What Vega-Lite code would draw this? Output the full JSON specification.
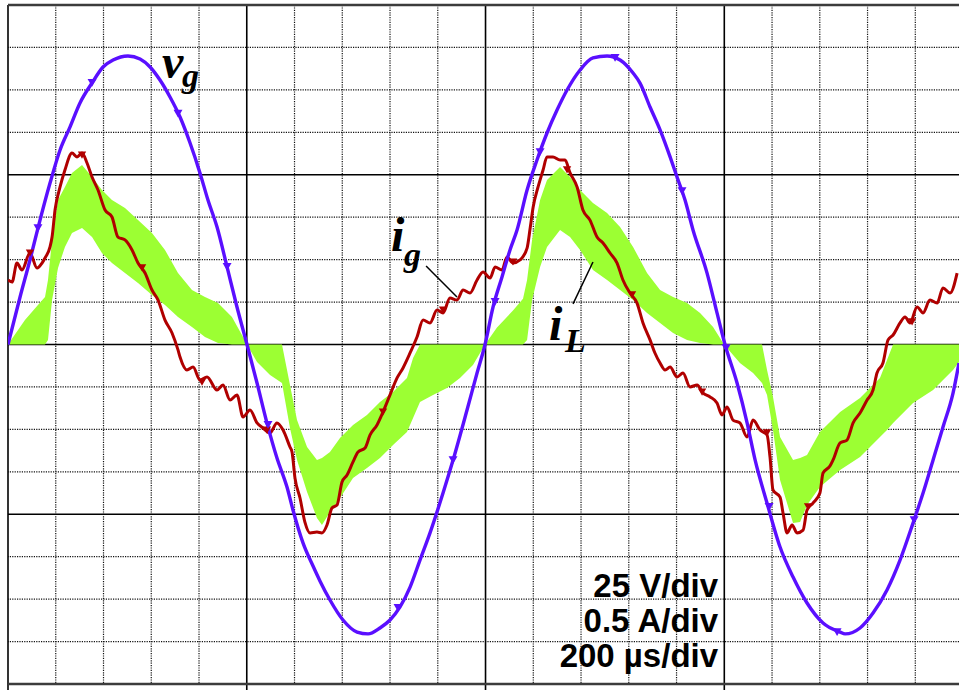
{
  "$schema": "https://vega.github.io/schema/vega-lite/v6.json",
  "width": 951,
  "height": 679,
  "autosize": {"type": "none"},
  "padding": {"left": 8, "top": 5, "right": 0, "bottom": 6},
  "background": "white",
  "view": {"stroke": null},
  "datasets": {
    "iL": [
      {"t":0,"hi":0,"lo":0},{"t":14.2,"hi":0.144,"lo":0},{"t":25.1,"hi":0.233,"lo":0},{"t":31.0,"hi":0.28,"lo":0},
      {"t":33.5,"hi":0.38,"lo":0.027},{"t":36.9,"hi":0.616,"lo":0.262},{"t":41.9,"hi":0.851,"lo":0.451},{"t":47.7,"hi":0.928,"lo":0.575},
      {"t":53.6,"hi":1.011,"lo":0.657},{"t":62.0,"hi":1.057,"lo":0.686},{"t":70.4,"hi":0.987,"lo":0.633},{"t":78.7,"hi":0.91,"lo":0.539},
      {"t":87.1,"hi":0.851,"lo":0.48},{"t":98.0,"hi":0.804,"lo":0.421},{"t":108.9,"hi":0.733,"lo":0.362},{"t":120.6,"hi":0.657,"lo":0.292},
      {"t":131.5,"hi":0.557,"lo":0.233},{"t":142.4,"hi":0.421,"lo":0.162},{"t":154.1,"hi":0.321,"lo":0.103},{"t":165.0,"hi":0.28,"lo":0.044},
      {"t":175.9,"hi":0.244,"lo":0.009},{"t":187.6,"hi":0.162,"lo":0},{"t":196.9,"hi":0.044,"lo":0},{"t":200.2,"hi":0,"lo":0},
      {"t":208.6,"hi":0,"lo":-0.103},{"t":219.5,"hi":0,"lo":-0.18},{"t":229.5,"hi":0,"lo":-0.227},{"t":236.2,"hi":-0.239,"lo":-0.492},
      {"t":242.1,"hi":-0.445,"lo":-0.68},{"t":250.5,"hi":-0.604,"lo":-0.869},{"t":258.8,"hi":-0.68,"lo":-1.022},{"t":263.0,"hi":-0.669,"lo":-1.063},
      {"t":269.7,"hi":-0.633,"lo":-0.987},{"t":278.1,"hi":-0.551,"lo":-0.904},{"t":289.0,"hi":-0.474,"lo":-0.787},{"t":300.7,"hi":-0.415,"lo":-0.728},
      {"t":311.6,"hi":-0.339,"lo":-0.669},{"t":322.5,"hi":-0.28,"lo":-0.592},{"t":334.2,"hi":-0.197,"lo":-0.515},{"t":339.3,"hi":-0.08,"lo":-0.433},
      {"t":345.1,"hi":0,"lo":-0.339},{"t":356.0,"hi":0,"lo":-0.297},{"t":367.7,"hi":0,"lo":-0.256},{"t":378.6,"hi":0,"lo":-0.197},
      {"t":389.5,"hi":0,"lo":-0.121},{"t":399.6,"hi":0,"lo":0},{"t":409.6,"hi":0.1,"lo":0},{"t":423.0,"hi":0.2,"lo":0},
      {"t":431.4,"hi":0.27,"lo":0},{"t":434.8,"hi":0.38,"lo":0.027},{"t":439.0,"hi":0.616,"lo":0.262},{"t":445.7,"hi":0.851,"lo":0.457},
      {"t":451.5,"hi":0.969,"lo":0.575},{"t":462.4,"hi":1.046,"lo":0.675},{"t":470.8,"hi":0.987,"lo":0.633},{"t":479.2,"hi":0.91,"lo":0.557},
      {"t":490.0,"hi":0.834,"lo":0.439},{"t":501.8,"hi":0.775,"lo":0.38},{"t":512.7,"hi":0.692,"lo":0.321},{"t":523.6,"hi":0.575,"lo":0.262},
      {"t":535.3,"hi":0.421,"lo":0.186},{"t":546.2,"hi":0.321,"lo":0.127},{"t":557.1,"hi":0.28,"lo":0.068},{"t":568.8,"hi":0.244,"lo":0.027},
      {"t":579.7,"hi":0.186,"lo":0.009},{"t":590.6,"hi":0.103,"lo":0},{"t":599.8,"hi":0,"lo":0},{"t":613.1,"hi":0,"lo":-0.109},
      {"t":624.1,"hi":0,"lo":-0.168},{"t":631.6,"hi":0,"lo":-0.227},{"t":635.8,"hi":-0.15,"lo":-0.297},{"t":640.8,"hi":-0.309,"lo":-0.504},
      {"t":646.7,"hi":-0.545,"lo":-0.798},{"t":657.6,"hi":-0.68,"lo":-1.052},{"t":663.5,"hi":-0.669,"lo":-1.046},{"t":669.3,"hi":-0.651,"lo":-0.946},
      {"t":680.1,"hi":-0.515,"lo":-0.84},{"t":697.0,"hi":-0.398,"lo":-0.739},{"t":713.7,"hi":-0.315,"lo":-0.663},{"t":730.4,"hi":-0.197,"lo":-0.545},
      {"t":736.3,"hi":-0.091,"lo":-0.504},{"t":741.4,"hi":0,"lo":-0.463},{"t":758.1,"hi":0,"lo":-0.345},{"t":774.9,"hi":0,"lo":-0.268},
      {"t":791.6,"hi":0,"lo":-0.15},{"t":796.6,"hi":0,"lo":-0.103}
    ],
    "ig": [
      {"t":0,"v":0.38},{"t":3.4,"v":0.368},{"t":7.5,"v":0.48},{"t":11.7,"v":0.439},{"t":18.4,"v":0.539},{"t":24.3,"v":0.451},
      {"t":28.5,"v":0.48},{"t":31.0,"v":0.51},{"t":35.2,"v":0.575},{"t":36.9,"v":0.633},{"t":39.4,"v":0.792},{"t":43.6,"v":0.928},
      {"t":47.7,"v":1.028},{"t":53.6,"v":1.128},{"t":57.8,"v":1.105},{"t":62.0,"v":1.128},{"t":66.2,"v":1.069},{"t":70.4,"v":0.987},
      {"t":75.4,"v":0.91},{"t":81.3,"v":0.792},{"t":87.1,"v":0.751},{"t":92.1,"v":0.633},{"t":98.0,"v":0.616},{"t":103.9,"v":0.557},
      {"t":108.9,"v":0.48},{"t":114.8,"v":0.421},{"t":120.6,"v":0.321},{"t":125.7,"v":0.262},{"t":131.5,"v":0.144},{"t":137.4,"v":0.068},
      {"t":142.4,"v":-0.032},{"t":144.1,"v":-0.074},{"t":149.9,"v":-0.15},{"t":155.0,"v":-0.133},{"t":160.8,"v":-0.209},{"t":166.7,"v":-0.191},
      {"t":175.1,"v":-0.268},{"t":180.1,"v":-0.239},{"t":186.0,"v":-0.327},{"t":191.8,"v":-0.297},{"t":196.9,"v":-0.427},{"t":202.7,"v":-0.386},
      {"t":208.6,"v":-0.462},{"t":213.6,"v":-0.492},{"t":219.5,"v":-0.521},{"t":225.3,"v":-0.462},{"t":230.4,"v":-0.504},{"t":236.2,"v":-0.604},
      {"t":237.9,"v":-0.633},{"t":240.4,"v":-0.787},{"t":244.6,"v":-0.904},{"t":248.7,"v":-1.046},{"t":253.0,"v":-1.11},{"t":258.8,"v":-1.105},
      {"t":263.0,"v":-1.11},{"t":267.2,"v":-1.063},{"t":271.4,"v":-0.963},{"t":275.6,"v":-0.946},{"t":279.8,"v":-0.81},{"t":284.0,"v":-0.769},
      {"t":289.0,"v":-0.692},{"t":293.2,"v":-0.633},{"t":299.1,"v":-0.61},{"t":303.3,"v":-0.533},{"t":309.1,"v":-0.474},{"t":314.1,"v":-0.398},
      {"t":320.0,"v":-0.297},{"t":325.9,"v":-0.197},{"t":330.9,"v":-0.138},{"t":336.8,"v":-0.05},{"t":342.6,"v":0.044},{"t":347.7,"v":0.144},
      {"t":353.5,"v":0.127},{"t":359.4,"v":0.203},{"t":364.4,"v":0.186},{"t":370.2,"v":0.274},{"t":376.1,"v":0.262},{"t":381.2,"v":0.321},
      {"t":387.0,"v":0.303},{"t":392.9,"v":0.38},{"t":397.9,"v":0.427},{"t":403.8,"v":0.392},{"t":408.0,"v":0.457},{"t":413.8,"v":0.439},
      {"t":418.0,"v":0.516},{"t":423.0,"v":0.48},{"t":428.9,"v":0.498},{"t":434.8,"v":0.568},{"t":437.4,"v":0.686},{"t":439.9,"v":0.81},
      {"t":444.0,"v":0.928},{"t":448.2,"v":1.028},{"t":451.5,"v":1.105},{"t":456.5,"v":1.105},{"t":462.4,"v":1.087},{"t":466.6,"v":1.087},
      {"t":470.8,"v":1.011},{"t":476.7,"v":0.928},{"t":481.6,"v":0.792},{"t":487.5,"v":0.733},{"t":493.4,"v":0.633},{"t":498.4,"v":0.598},
      {"t":504.3,"v":0.539},{"t":510.2,"v":0.48},{"t":515.1,"v":0.38},{"t":521.0,"v":0.303},{"t":526.9,"v":0.244},{"t":531.9,"v":0.127},
      {"t":537.8,"v":0.027},{"t":541.9,"v":-0.05},{"t":546.2,"v":-0.109},{"t":550.4,"v":-0.15},{"t":554.6,"v":-0.133},{"t":560.4,"v":-0.191},
      {"t":565.4,"v":-0.168},{"t":571.3,"v":-0.25},{"t":577.2,"v":-0.239},{"t":582.2,"v":-0.286},{"t":588.1,"v":-0.309},{"t":593.9,"v":-0.345},
      {"t":598.1,"v":-0.415},{"t":602.3,"v":-0.368},{"t":607.3,"v":-0.445},{"t":613.1,"v":-0.462},{"t":619.1,"v":-0.545},{"t":624.1,"v":-0.445},
      {"t":630.0,"v":-0.504},{"t":635.8,"v":-0.533},{"t":638.3,"v":-0.663},{"t":640.8,"v":-0.857},{"t":646.7,"v":-0.899},{"t":649.2,"v":-0.993},
      {"t":652.6,"v":-1.11},{"t":656.8,"v":-1.063},{"t":660.9,"v":-1.11},{"t":666.0,"v":-1.093},{"t":669.3,"v":-0.975},{"t":674.3,"v":-0.934},
      {"t":680.1,"v":-0.875},{"t":682.7,"v":-0.757},{"t":688.5,"v":-0.716},{"t":691.1,"v":-0.68},{"t":697.0,"v":-0.58},{"t":702.8,"v":-0.563},
      {"t":707.9,"v":-0.462},{"t":713.7,"v":-0.404},{"t":719.6,"v":-0.327},{"t":724.6,"v":-0.268},{"t":727.9,"v":-0.168},{"t":732.9,"v":-0.109},
      {"t":737.2,"v":0.027},{"t":741.4,"v":0.056},{"t":747.2,"v":0.127},{"t":751.4,"v":0.162},{"t":755.6,"v":0.127},{"t":761.5,"v":0.221},
      {"t":766.5,"v":0.186},{"t":772.3,"v":0.262},{"t":778.2,"v":0.244},{"t":783.2,"v":0.333},{"t":789.1,"v":0.303},{"t":795.0,"v":0.421}
    ],
    "vg": [
      {"t":0,"v":0},{"t":10.1,"v":0.28},{"t":18.4,"v":0.498},{"t":25.1,"v":0.686},{"t":35.2,"v":0.951},{"t":43.6,"v":1.146},
      {"t":51.9,"v":1.281},{"t":60.3,"v":1.423},{"t":70.4,"v":1.541},{"t":79.6,"v":1.635},{"t":88.0,"v":1.676},{"t":100.5,"v":1.7},
      {"t":110.6,"v":1.682},{"t":119.0,"v":1.635},{"t":127.3,"v":1.558},{"t":135.7,"v":1.458},{"t":144.1,"v":1.34},{"t":152.5,"v":1.187},
      {"t":160.8,"v":1.011},{"t":167.5,"v":0.851},{"t":175.1,"v":0.692},{"t":183.5,"v":0.457},{"t":191.8,"v":0.221},{"t":200.2,"v":0},
      {"t":208.6,"v":-0.227},{"t":216.9,"v":-0.462},{"t":225.3,"v":-0.669},{"t":233.7,"v":-0.84},{"t":238.7,"v":-0.975},{"t":247.1,"v":-1.169},
      {"t":255.5,"v":-1.305},{"t":261.4,"v":-1.394},{"t":269.7,"v":-1.505},{"t":280.6,"v":-1.623},{"t":292.4,"v":-1.694},{"t":301.6,"v":-1.705},
      {"t":311.6,"v":-1.67},{"t":320.0,"v":-1.623},{"t":328.4,"v":-1.546},{"t":336.8,"v":-1.429},{"t":345.1,"v":-1.27},{"t":353.5,"v":-1.11},
      {"t":364.4,"v":-0.875},{"t":372.8,"v":-0.681},{"t":384.5,"v":-0.386},{"t":392.9,"v":-0.168},{"t":399.6,"v":0},{"t":406.3,"v":0.221},
      {"t":413.8,"v":0.398},{"t":420.5,"v":0.557},{"t":426.4,"v":0.675},{"t":434.8,"v":0.91},{"t":443.1,"v":1.087},{"t":451.5,"v":1.246},
      {"t":459.9,"v":1.381},{"t":468.3,"v":1.499},{"t":479.2,"v":1.617},{"t":490.0,"v":1.688},{"t":501.8,"v":1.7},{"t":512.7,"v":1.676},
      {"t":523.6,"v":1.599},{"t":529.4,"v":1.54},{"t":537.8,"v":1.399},{"t":546.2,"v":1.264},{"t":554.6,"v":1.105},{"t":560.4,"v":0.987},
      {"t":567.1,"v":0.851},{"t":573.8,"v":0.675},{"t":585.5,"v":0.422},{"t":593.9,"v":0.186},{"t":600.6,"v":0},{"t":610.7,"v":-0.227},
      {"t":619.1,"v":-0.462},{"t":625.8,"v":-0.68},{"t":635.8,"v":-0.934},{"t":646.7,"v":-1.193},{"t":657.6,"v":-1.37},{"t":669.3,"v":-1.523},
      {"t":682.7,"v":-1.641},{"t":697.0,"v":-1.694},{"t":701.2,"v":-1.705},{"t":713.7,"v":-1.67},{"t":724.6,"v":-1.582},{"t":736.3,"v":-1.446},
      {"t":747.2,"v":-1.27},{"t":758.1,"v":-1.052},{"t":766.5,"v":-0.875},{"t":774.9,"v":-0.68},{"t":783.2,"v":-0.486},{"t":791.6,"v":-0.286},
      {"t":796.6,"v":-0.109}
    ],
    "vgMarks": [
      {"t":25.1,"v":0.686},{"t":70.4,"v":1.541},{"t":142.4,"v":1.36},{"t":183.5,"v":0.457},{"t":217.8,"v":-0.474},{"t":326.7,"v":-1.552},
      {"t":372.8,"v":-0.681},{"t":408.0,"v":0.251},{"t":445.7,"v":1.134},{"t":508.5,"v":1.688},{"t":564.6,"v":0.904},{"t":601.5,"v":-0.021},
      {"t":637.5,"v":-0.957},{"t":694.5,"v":-1.694},{"t":759.0,"v":-1.034}
    ],
    "igMarks": [
      {"t":18.4,"v":0.539},{"t":62.0,"v":1.116},{"t":112.3,"v":0.451},{"t":162.5,"v":-0.221},{"t":216.9,"v":-0.504},{"t":314.1,"v":-0.398},
      {"t":364.4,"v":0.203},{"t":423.0,"v":0.486},{"t":468.3,"v":1.028},{"t":522.7,"v":0.292},{"t":581.4,"v":-0.28},{"t":635.8,"v":-0.521},
      {"t":670.2,"v":-0.957},{"t":757.3,"v":0.133}
    ],
    "minorT": [{"t":40},{"t":80},{"t":120},{"t":160},{"t":240},{"t":280},{"t":320},{"t":360},{"t":440},{"t":480},{"t":520},{"t":560},{"t":640},{"t":680},{"t":720},{"t":760}],
    "minorV": [{"v":-1.75},{"v":-1.5},{"v":-1.25},{"v":-0.75},{"v":-0.5},{"v":-0.25},{"v":0.25},{"v":0.5},{"v":0.75},{"v":1.25},{"v":1.5},{"v":1.75}],
    "majorT": [{"t":0},{"t":200},{"t":400},{"t":600}],
    "majorV": [{"v":-1},{"v":0},{"v":1}],
    "borderV": [{"v":2},{"v":-2}],
    "leaders": [
      {"t":350.2,"v":0.462,"t2":376.1,"v2":0.28},
      {"t":473.3,"v":0.239,"t2":490.0,"v2":0.486}
    ],
    "mainLabels": [
      {"s":"v","t":129.0,"v":1.57},
      {"s":"i","t":320.8,"v":0.551},
      {"s":"i","t":453.2,"v":0.027}
    ],
    "subLabels": [
      {"s":"g","t":145.7,"v":1.517},
      {"s":"g","t":331.7,"v":0.462},
      {"s":"L","t":466.6,"v":-0.044}
    ],
    "scaleText": [
      {"s":"25 V/div","t":594.8,"v":-1.487},
      {"s":"0.5 A/div","t":594.8,"v":-1.694},
      {"s":"200 µs/div","t":594.8,"v":-1.9}
    ]
  },
  "layer": [
    {
      "data": {"name": "minorV"},
      "mark": {"type": "rule", "color": "#111", "strokeWidth": 1.2, "strokeDash": [1.2, 1.2]},
      "encoding": {
        "y": {"field": "v", "type": "quantitative", "scale": {"domain": [-2, 2], "nice": false, "zero": false}, "axis": null}
      }
    },
    {
      "data": {"name": "minorT"},
      "mark": {"type": "rule", "color": "#111", "strokeWidth": 1.2, "strokeDash": [1.2, 1.2]},
      "encoding": {
        "x": {"field": "t", "type": "quantitative", "scale": {"domain": [0, 796.6], "nice": false, "zero": false}, "axis": null}
      }
    },
    {
      "data": {"name": "majorV"},
      "mark": {"type": "rule", "color": "#000", "strokeWidth": 1.5},
      "encoding": {
        "y": {"field": "v", "type": "quantitative", "axis": null}
      }
    },
    {
      "data": {"name": "majorT"},
      "mark": {"type": "rule", "color": "#000", "strokeWidth": 1.6},
      "encoding": {
        "x": {"field": "t", "type": "quantitative", "axis": null},
        "y": {"datum": 2, "type": "quantitative", "axis": null},
        "y2": {"datum": -2.04}
      }
    },
    {
      "data": {"name": "borderV"},
      "mark": {"type": "rule", "color": "#3c3c3c", "strokeWidth": 2.5},
      "encoding": {
        "y": {"field": "v", "type": "quantitative", "axis": null}
      }
    },
    {
      "data": {"name": "iL"},
      "mark": {"type": "area", "color": "#9cff33", "clip": true},
      "encoding": {
        "x": {"field": "t", "type": "quantitative", "axis": null},
        "y": {"field": "hi", "type": "quantitative", "axis": null},
        "y2": {"field": "lo"}
      }
    },
    {
      "data": {"name": "ig"},
      "mark": {"type": "line", "color": "#b00000", "strokeWidth": 3, "clip": true, "interpolate": "monotone"},
      "encoding": {
        "x": {"field": "t", "type": "quantitative", "axis": null},
        "y": {"field": "v", "type": "quantitative", "axis": null}
      }
    },
    {
      "data": {"name": "vg"},
      "mark": {"type": "line", "color": "#5a0fff", "strokeWidth": 3.4, "clip": true, "interpolate": "monotone"},
      "encoding": {
        "x": {"field": "t", "type": "quantitative", "axis": null},
        "y": {"field": "v", "type": "quantitative", "axis": null}
      }
    },
    {
      "data": {"name": "igMarks"},
      "mark": {"type": "point", "shape": "triangle-down", "filled": true, "size": 70, "color": "#b00000", "opacity": 1},
      "encoding": {
        "x": {"field": "t", "type": "quantitative", "axis": null},
        "y": {"field": "v", "type": "quantitative", "axis": null}
      }
    },
    {
      "data": {"name": "vgMarks"},
      "mark": {"type": "point", "shape": "triangle-down", "filled": true, "size": 80, "color": "#5a0fff", "opacity": 1},
      "encoding": {
        "x": {"field": "t", "type": "quantitative", "axis": null},
        "y": {"field": "v", "type": "quantitative", "axis": null}
      }
    },
    {
      "data": {"name": "leaders"},
      "mark": {"type": "rule", "color": "#000", "strokeWidth": 1.5},
      "encoding": {
        "x": {"field": "t", "type": "quantitative", "axis": null},
        "y": {"field": "v", "type": "quantitative", "axis": null},
        "x2": {"field": "t2"},
        "y2": {"field": "v2"}
      }
    },
    {
      "data": {"name": "mainLabels"},
      "mark": {"type": "text", "font": "Liberation Serif", "fontStyle": "italic", "fontWeight": "bold", "fontSize": 48, "align": "left", "baseline": "alphabetic", "color": "#000"},
      "encoding": {
        "x": {"field": "t", "type": "quantitative", "axis": null},
        "y": {"field": "v", "type": "quantitative", "axis": null},
        "text": {"field": "s"}
      }
    },
    {
      "data": {"name": "subLabels"},
      "mark": {"type": "text", "font": "Liberation Serif", "fontStyle": "italic", "fontWeight": "bold", "fontSize": 34, "align": "left", "baseline": "alphabetic", "color": "#000"},
      "encoding": {
        "x": {"field": "t", "type": "quantitative", "axis": null},
        "y": {"field": "v", "type": "quantitative", "axis": null},
        "text": {"field": "s"}
      }
    },
    {
      "data": {"name": "scaleText"},
      "mark": {"type": "text", "font": "Liberation Sans", "fontWeight": "bold", "fontSize": 33, "align": "right", "baseline": "alphabetic", "color": "#000"},
      "encoding": {
        "x": {"field": "t", "type": "quantitative", "axis": null},
        "y": {"field": "v", "type": "quantitative", "axis": null},
        "text": {"field": "s"}
      }
    }
  ]
}
